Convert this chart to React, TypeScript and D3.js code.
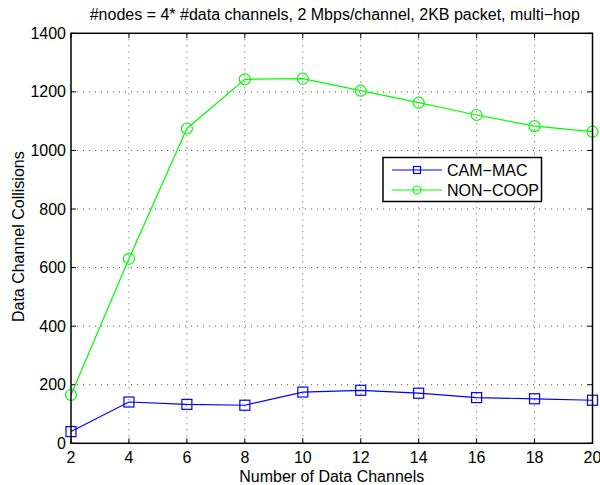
import React from "react";
import * as d3 from "d3";

const channels = [2, 4, 6, 8, 10, 12, 14, 16, 18, 20];
const camMac = [40, 141, 133, 130, 175, 181, 171, 156, 152, 147];
const nonCoop = [165, 630, 1075, 1243, 1245, 1204, 1163, 1121, 1083, 1064];
const xTicks = [2, 4, 6, 8, 10, 12, 14, 16, 18, 20];
const yTicks = [0, 200, 400, 600, 800, 1000, 1200, 1400];
const seriesNames = ["CAM\u2212MAC", "NON\u2212COOP"];

const W = 600;
const H = 485;
const left = 71;
const right = 592.5;
const top = 33.3;
const bottom = 443.3;
const font = "'Liberation Sans', Arial, Helvetica, sans-serif";
const fs = 16;

export default function App() {
  const x = d3.scaleLinear().domain([2, 20]).range([left, right]);
  const y = d3.scaleLinear().domain([0, 1400]).range([bottom, top]);
  const line = d3
    .line<number>()
    .x((_, i) => x(channels[i]))
    .y((d) => y(d));

  const tick = 5;
  const blue = "#0000ff";
  const green = "#00ff00";

  return (
    <svg
      width={W}
      height={H}
      style={{ position: "absolute", left: 0, top: 0, background: "#fff" }}
      fontFamily={font}
    >
      <rect x={0} y={0} width={W} height={H} fill="#fff" />
      {/* grid */}
      {xTicks.slice(1, -1).map((t) => (
        <line
          key={"gx" + t}
          x1={x(t)}
          x2={x(t)}
          y1={top}
          y2={bottom}
          stroke="#555"
          strokeWidth={1}
          strokeDasharray="1 5"
        />
      ))}
      {yTicks.slice(1, -1).map((t) => (
        <line
          key={"gy" + t}
          x1={left}
          x2={right}
          y1={y(t)}
          y2={y(t)}
          stroke="#555"
          strokeWidth={1}
          strokeDasharray="1 5"
        />
      ))}
      {/* ticks on all four sides */}
      {xTicks.map((t) => (
        <g key={"tx" + t}>
          <line x1={x(t)} x2={x(t)} y1={bottom} y2={bottom - tick} stroke="#000" />
          <line x1={x(t)} x2={x(t)} y1={top} y2={top + tick} stroke="#000" />
          <text x={x(t)} y={462.5} textAnchor="middle" fontSize={fs} fill="#000">
            {t}
          </text>
        </g>
      ))}
      {yTicks.map((t) => (
        <g key={"ty" + t}>
          <line x1={left} x2={left + tick} y1={y(t)} y2={y(t)} stroke="#000" />
          <line x1={right} x2={right - tick} y1={y(t)} y2={y(t)} stroke="#000" />
          <text x={66} y={y(t) + 5.5} textAnchor="end" fontSize={fs} fill="#000">
            {t}
          </text>
        </g>
      ))}
      {/* series */}
      <path d={line(nonCoop) ?? ""} fill="none" stroke={green} strokeWidth={1.2} />
      {nonCoop.map((v, i) => (
        <circle
          key={"c" + i}
          cx={x(channels[i])}
          cy={y(v)}
          r={5.5}
          fill="none"
          stroke={green}
          strokeWidth={1.2}
        />
      ))}
      <path d={line(camMac) ?? ""} fill="none" stroke={blue} strokeWidth={1.2} />
      {camMac.map((v, i) => (
        <rect
          key={"s" + i}
          x={x(channels[i]) - 5}
          y={y(v) - 5}
          width={10}
          height={10}
          fill="none"
          stroke={blue}
          strokeWidth={1.2}
        />
      ))}
      {/* axes box */}
      <rect
        x={left}
        y={top}
        width={right - left}
        height={bottom - top}
        fill="none"
        stroke="#000"
        strokeWidth={1.5}
      />
      {/* legend */}
      <g>
        <rect
          x={383}
          y={157.5}
          width={158.5}
          height={44}
          fill="#fff"
          stroke="#000"
          strokeWidth={1.5}
        />
        <line x1={392} x2={442} y1={170} y2={170} stroke={blue} strokeWidth={1.2} />
        <rect
          x={413.5}
          y={166.5}
          width={7}
          height={7}
          fill="none"
          stroke={blue}
          strokeWidth={1.2}
        />
        <text x={447} y={176} fontSize={fs} fill="#000">
          {seriesNames[0]}
        </text>
        <line x1={392} x2={442} y1={190} y2={190} stroke={green} strokeWidth={1.2} />
        <circle cx={417} cy={190} r={4} fill="none" stroke={green} strokeWidth={1.2} />
        <text x={447} y={195.5} fontSize={fs} fill="#000">
          {seriesNames[1]}
        </text>
      </g>
      {/* title and axis labels */}
      <text x={(left + right) / 2 + 3} y={20} textAnchor="middle" fontSize={fs} fill="#000">
        #nodes = 4* #data channels, 2 Mbps/channel, 2KB packet, multi{"\u2212"}hop
      </text>
      <text x={(left + right) / 2} y={481.5} textAnchor="middle" fontSize={fs} fill="#000">
        Number of Data Channels
      </text>
      <text
        transform={`translate(23.5, 236.7) rotate(-90)`}
        textAnchor="middle"
        fontSize={fs}
        fill="#000"
      >
        Data Channel Collisions
      </text>
    </svg>
  );
}
